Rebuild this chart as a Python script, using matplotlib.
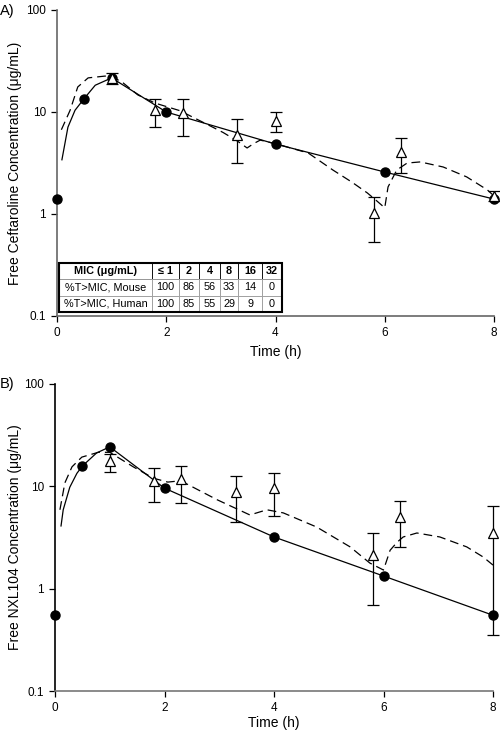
"""Ceftaroline / NXL104 free concentration-time profiles (mouse vs humanized)."""
import matplotlib
matplotlib.use('Agg')
import matplotlib.pyplot as plt
from matplotlib.patches import Rectangle

plt.rcParams['font.family'] = ['Liberation Sans', 'DejaVu Sans']

# ---- panel A: ceftaroline ----
a_circ_t = [0, 0.5, 1, 2, 4, 6, 8]
a_circ_c = [1.4, 13.5, 21.5, 10.0, 4.85, 2.58, 1.4]
a_tri_t = [1, 1.8, 2.3, 3.3, 4, 5.8, 6.3, 8]
a_tri_c = [21.5, 10.4, 9.8, 5.95, 8.2, 1.02, 4.05, 1.5]
a_tri_lo = [18.8, 7.1, 5.8, 3.16, 6.3, 0.53, 2.52, 1.35]
a_tri_hi = [24.1, 13.3, 13.4, 8.5, 10.1, 1.47, 5.56, 1.67]
a_fit_t = [0.09, 0.2, 0.33, 0.5, 0.7, 1.0, 2.0, 4.0, 6.0, 8.0]
a_fit_c = [3.4, 7.1, 10.4, 13.6, 18.3, 21.6, 10.0, 4.85, 2.58, 1.4]
a_sim_t = [0.08, 0.24, 0.38, 0.57, 0.88, 1.0, 1.2, 1.48, 1.8, 2.25, 2.85, 3.04,
           3.3, 3.48, 3.6, 3.72, 4.03, 4.3, 4.6, 5.05, 5.4, 5.68, 5.85, 6.0,
           6.06, 6.22, 6.41, 6.65, 7.07, 7.5, 7.88, 8.0]
a_sim_c = [6.7, 10.4, 17.6, 21.6, 22.5, 22.3, 19.5, 14.7, 12.2, 10.3, 7.1, 6.3,
           5.2, 4.44, 4.9, 5.3, 4.85, 4.4, 3.96, 2.7, 2.05, 1.61, 1.35, 1.15,
           1.84, 2.7, 3.16, 3.24, 2.89, 2.31, 1.72, 1.5]

# ---- panel B: NXL104 ----
b_circ_t = [0, 0.5, 1, 2, 4, 6, 8]
b_circ_c = [0.55, 15.8, 24.3, 9.6, 3.2, 1.33, 0.55]
b_tri_t = [1, 1.8, 2.3, 3.3, 4, 5.8, 6.3, 8]
b_tri_c = [17.7, 11.3, 11.8, 8.8, 9.6, 2.13, 5.0, 3.5]
b_tri_lo = [13.8, 7.0, 6.9, 4.5, 5.1, 0.69, 2.56, 0.35]
b_tri_hi = [20.5, 15.1, 15.8, 12.6, 13.4, 3.5, 7.2, 6.4]
b_fit_t = [0.11, 0.15, 0.27, 0.4, 0.5, 0.76, 1.0, 2.0, 4.0, 6.0, 8.0]
b_fit_c = [4.1, 5.9, 9.8, 13.4, 15.8, 21.2, 24.3, 9.6, 3.2, 1.33, 0.55]
b_sim_t = [0.09, 0.18, 0.31, 0.49, 0.79, 1.0, 1.43, 1.8, 2.06, 2.2, 2.4, 2.96,
           3.56, 3.87, 4.17, 4.78, 5.39, 5.75, 6.0, 6.12, 6.25, 6.36, 6.61,
           7.03, 7.52, 7.82, 8.0]
b_sim_c = [5.9, 10.8, 15.5, 19.3, 21.5, 21.5, 15.5, 12.0, 11.0, 11.2, 10.6, 7.4,
           5.25, 5.9, 5.5, 4.0, 2.56, 1.78, 1.52, 2.37, 2.85, 3.2, 3.5,
           3.2, 2.56, 2.04, 1.7]

# ---- %T>MIC table ----
mic_labels = ['≤ 1', '2', '4', '8', '16', '32']
mouse_tmic = [100, 86, 56, 33, 14, 0]
human_tmic = [100, 85, 55, 29, 9, 0]

W, H = 500, 732
fig = plt.figure(figsize=(W / 100, H / 100), dpi=100)


def px_axes(l, t, r, b):
    return fig.add_axes([l / W, 1 - b / H, (r - l) / W, (b - t) / H])


def panel(ax, ct, cc, tt, tc, tlo, thi, ft, fc, st, sc, ylabel, left_col, bot_col):
    ax.plot(ft, fc, '-', color='black', lw=0.9, zorder=2)
    ax.plot(st, sc, color='black', lw=0.9, dashes=(7, 4), zorder=2)
    ax.plot(ct, cc, 'o', color='black', ms=6.5, clip_on=False, zorder=3)
    yerr = [[c - lo for c, lo in zip(tc, tlo)], [hi - c for c, hi in zip(tc, thi)]]
    ax.errorbar(tt, tc, yerr=yerr, fmt='^', mfc='white', mec='black', ms=7,
                mew=0.9, ecolor='black', elinewidth=0.9, capsize=4, capthick=0.9,
                color='black', clip_on=False, zorder=4)
    ax.set_yscale('log')
    ax.set_ylim(0.1, 100)
    ax.set_xlim(0, 8)
    ax.set_xticks([0, 2, 4, 6, 8])
    ax.set_yticks([0.1, 1, 10, 100])
    ax.set_yticklabels(['0.1', '1', '10', '100'])
    ax.minorticks_off()
    ax.spines['top'].set_visible(False)
    ax.spines['right'].set_visible(False)
    ax.spines['left'].set_color(left_col)
    ax.spines['bottom'].set_color(bot_col)
    ax.spines['left'].set_linewidth(1.2)
    ax.spines['bottom'].set_linewidth(1.2)
    ax.tick_params(direction='out', length=4, width=0.9, labelsize=8.5, pad=4)
    ax.set_xlabel('Time (h)', fontsize=10)
    ax.set_ylabel(ylabel, fontsize=10)


axA = px_axes(57, 10, 494, 316)
panel(axA, a_circ_t, a_circ_c, a_tri_t, a_tri_c, a_tri_lo, a_tri_hi,
      a_fit_t, a_fit_c, a_sim_t, a_sim_c,
      'Free Ceftaroline Concentration (μg/mL)', '#666666', '#666666')
axA.yaxis.set_label_coords(-0.08, 0.5)
axA.xaxis.set_label_coords(0.5, -0.095)

axB = px_axes(55, 384, 493, 691)
panel(axB, b_circ_t, b_circ_c, b_tri_t, b_tri_c, b_tri_lo, b_tri_hi,
      b_fit_t, b_fit_c, b_sim_t, b_sim_c,
      'Free NXL104 Concentration (μg/mL)', 'black', '#777777')
axB.yaxis.set_label_coords(-0.076, 0.5)
axB.xaxis.set_label_coords(0.5, -0.083)

fig.text(0.0, 1 - 11 / H, 'A)', fontsize=10.5, va='center', ha='left')
fig.text(0.0, 1 - 384 / H, 'B)', fontsize=10.5, va='center', ha='left')

# table in panel A
cells = [['MIC (μg/mL)'] + mic_labels,
         ['%T>MIC, Mouse'] + [str(v) for v in mouse_tmic],
         ['%T>MIC, Human'] + [str(v) for v in human_tmic]]
col_w = [93, 27, 20, 21, 18, 24, 20]
tot = sum(col_w)
tl, tb, tw, th = 2 / 437, 4 / 306, 223 / 437, 49 / 306
tab = axA.table(cellText=cells, colWidths=[c / tot for c in col_w],
                cellLoc='center', bbox=[tl, tb, tw, th], zorder=5)
tab.auto_set_font_size(False)
tab.set_fontsize(7.8)
for (r, c), cell in tab.get_celld().items():
    cell.set_linewidth(0.6)
    cell.set_facecolor('white')
    if r == 0:
        cell.set_edgecolor('black')
        cell.get_text().set_fontweight('bold')
    else:
        cell.set_edgecolor('#999999')
axA.add_patch(Rectangle((tl, tb), tw, th, transform=axA.transAxes, fill=False,
                        ec='black', lw=1.5, zorder=6, clip_on=False))

fig.savefig('out.png', dpi=100)
